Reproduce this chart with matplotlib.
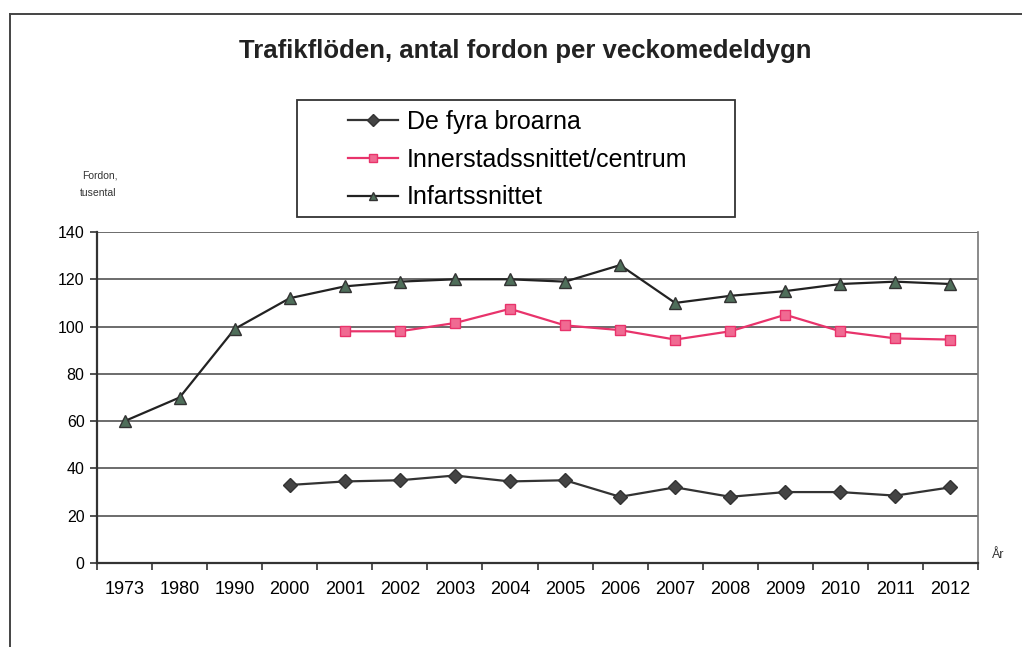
import matplotlib
matplotlib.use("Agg")
import matplotlib.pyplot as plt
from matplotlib.lines import Line2D
from matplotlib.patches import Rectangle

years = ['1973', '1980', '1990', '2000', '2001', '2002', '2003', '2004',
         '2005', '2006', '2007', '2008', '2009', '2010', '2011', '2012']

# None = no value for that year
broar = [None, None, None, 33, 34.5, 35, 37, 34.5, 35, 28, 32, 28, 30, 30, 28.5, 32]
innerstad = [None, None, None, None, 98, 98, 101.5, 107.5, 100.5, 98.5, 94.5, 98, 105, 98, 95, 94.5]
infart = [60, 70, 99, 112, 117, 119, 120, 120, 119, 126, 110, 113, 115, 118, 119, 118]

plt.rcParams['font.family'] = ['Liberation Sans', 'DejaVu Sans']

fig = plt.figure(figsize=(10.22, 6.47), dpi=100)
ax = fig.add_axes([97 / 1022, 1 - 563 / 647, (978 - 97) / 1022, (563 - 232) / 647])

x = list(range(len(years)))


def pts(vals):
    xs = [i for i, v in zip(x, vals) if v is not None]
    ys = [v for v in vals if v is not None]
    return xs, ys


xs, ys = pts(broar)
ax.plot(xs, ys, color='#333333', lw=1.6, marker='D', ms=7,
        mfc='#444444', mec='#333333', label='De fyra broarna', zorder=3)
xs, ys = pts(innerstad)
ax.plot(xs, ys, color='#e8336b', lw=1.6, marker='s', ms=7,
        mfc='#f06a92', mec='#e8336b', label='Innerstadssnittet/centrum', zorder=3)
xs, ys = pts(infart)
ax.plot(xs, ys, color='#222222', lw=1.6, marker='^', ms=9,
        mfc='#4f6e5a', mec='#333333', label='Infartssnittet', zorder=3)

ax.set_xlim(-0.5, len(years) - 0.5)
ax.set_ylim(0, 140)
ax.set_yticks(range(0, 141, 20))
ax.set_xticks(x)
ax.set_xticklabels(years)
ax.set_xticks([i - 0.5 for i in range(len(years) + 1)], minor=True)
ax.tick_params(axis='x', which='major', length=0, pad=13, labelsize=13)
ax.tick_params(axis='x', which='minor', length=5, width=1.2, color='#333333', direction='out')
ax.tick_params(axis='y', length=5, width=1.2, color='#333333', labelsize=11.5, pad=4)
ax.grid(axis='y', color='#444444', lw=1.1)
ax.set_axisbelow(True)

for s in ['left', 'bottom']:
    ax.spines[s].set_color('#333333')
    ax.spines[s].set_linewidth(1.6)
ax.spines['right'].set_color('#777777')
ax.spines['right'].set_linewidth(1.2)
ax.spines['top'].set_visible(False)

fig.text(525 / 1022, 1 - 51 / 647, 'Trafikflöden, antal fordon per veckomedeldygn',
         ha='center', va='center', fontsize=18.5, fontweight='bold', color='#222222')
fig.text(82 / 1022, 1 - 176 / 647, 'Fordon,', ha='left', va='center', fontsize=7.5, color='#333333')
fig.text(80 / 1022, 1 - 193 / 647, 'tusental', ha='left', va='center', fontsize=7.5, color='#333333')
fig.text(998 / 1022, 1 - 555 / 647, 'År', ha='center', va='center', fontsize=9, color='#333333')

# legend box drawn separately for the wide side padding
fig.add_artist(Rectangle((297 / 1022, 1 - 217 / 647), (735 - 297) / 1022, (217 - 100) / 647,
                         transform=fig.transFigure, fill=False, edgecolor='#333333', lw=1.3))
leg = fig.legend(loc='upper left', bbox_to_anchor=(348 / 1022, 1 - 110 / 647),
                 frameon=False, prop={'size': 18}, handlelength=2.0,
                 borderpad=0, labelspacing=0.55, handletextpad=0.35,
                 borderaxespad=0)
for h in leg.legend_handles:
    h.set_markersize(6)

# outer frame of the chart area
fig.add_artist(Line2D([10 / 1022, 10 / 1022], [0, 1 - 14 / 647], transform=fig.transFigure,
                      color='#444444', lw=1.4))
fig.add_artist(Line2D([10 / 1022, 1], [1 - 14 / 647, 1 - 14 / 647], transform=fig.transFigure,
                      color='#444444', lw=1.4))

fig.savefig('out.png', dpi=100)
